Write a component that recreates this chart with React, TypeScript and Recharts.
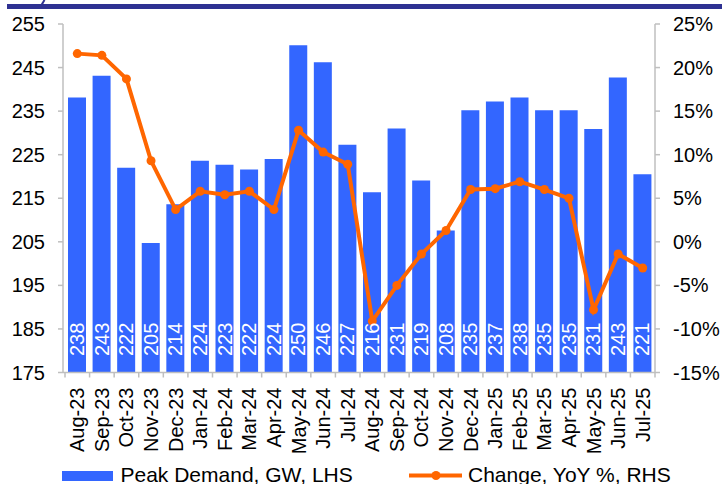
import React from 'react';
import { ComposedChart, Bar, Line, XAxis, YAxis, Legend, LabelList } from 'recharts';

const months = ['Aug-23', 'Sep-23', 'Oct-23', 'Nov-23', 'Dec-23', 'Jan-24', 'Feb-24', 'Mar-24', 'Apr-24', 'May-24', 'Jun-24', 'Jul-24', 'Aug-24', 'Sep-24', 'Oct-24', 'Nov-24', 'Dec-24', 'Jan-25', 'Feb-25', 'Mar-25', 'Apr-25', 'May-25', 'Jun-25', 'Jul-25'];
const peakDemand = [238.1, 243.1, 222.0, 204.7, 213.6, 223.6, 222.7, 221.6, 224.0, 250.1, 246.2, 227.3, 216.4, 231.0, 219.1, 207.6, 235.2, 237.2, 238.1, 235.2, 235.2, 230.9, 242.7, 220.5];
const yoyChange = [21.6, 21.4, 18.7, 9.3, 3.7, 5.8, 5.4, 5.8, 3.7, 12.8, 10.3, 8.9, -9.1, -5.0, -1.4, 1.3, 6.0, 6.1, 6.9, 6.0, 5.0, -7.8, -1.4, -3.0];
const leftTicks = [175, 185, 195, 205, 215, 225, 235, 245, 255];
const rightTicks = [-15, -10, -5, 0, 5, 10, 15, 20, 25];
const barName = 'Peak Demand, GW, LHS';
const lineName = 'Change, YoY %, RHS';

const data = months.map((m, i) => ({ month: m, demand: peakDemand[i], yoy: yoyChange[i] }));

const FONT = '"Liberation Sans", Arial, Helvetica, sans-serif';
const BLUE = '#3366FF';
const ORANGE = '#FF6600';
const AXIS = '#bfbfbf';

const XTick = (props: any) => {
  const { x, y, payload, index, visibleTicksCount } = props;
  const half = payload && typeof payload.offset === 'number' && payload.offset > 0 ? payload.offset : 12.29;
  const axisY = y - 15;
  const isLast = index === (visibleTicksCount ?? months.length) - 1;
  return (
    <g>
      <line x1={x - half} x2={x - half} y1={axisY} y2={axisY + 5} stroke={AXIS} strokeWidth={1.5} />
      {isLast && <line x1={x + half} x2={x + half} y1={axisY} y2={axisY + 5} stroke={AXIS} strokeWidth={1.5} />}
      <text
        x={0}
        y={0}
        dy="0.35em"
        textAnchor="end"
        transform={`translate(${x}, ${y}) rotate(-90)`}
        fill="#000"
        fontSize={20}
        fontFamily={FONT}
      >
        {payload.value}
      </text>
    </g>
  );
};

const BarLabel = (props: any) => {
  const { x, y, width, height, value } = props;
  const cx = Number(x) + Number(width) / 2;
  const by = Number(y) + Number(height) - 16.5;
  return (
    <text
      x={cx}
      y={by}
      dy="0.35em"
      textAnchor="start"
      transform={`rotate(-90, ${cx}, ${by})`}
      fill="#fff"
      fontSize={20}
      fontFamily={FONT}
    >
      {Math.round(Number(value))}
    </text>
  );
};

const renderLegend = (props: any) => {
  const payload: any[] = props.payload || [];
  const barItem = payload.find((p) => p.dataKey === 'demand');
  const lineItem = payload.find((p) => p.dataKey === 'yoy');
  return (
    <svg width={722} height={24} style={{ display: 'block' }}>
      <rect x={62} y={11} width={51} height={10} fill={barItem?.color || BLUE} />
      <text x={120.5} y={21.5} fontSize={21} fontFamily={FONT} fill="#000">
        {barItem?.value ?? barName}
      </text>
      <line x1={409} x2={462} y1={15.5} y2={15.5} stroke={lineItem?.color || ORANGE} strokeWidth={4} />
      <circle cx={436} cy={15.5} r={4.5} fill={lineItem?.color || ORANGE} />
      <text x={468} y={21.5} fontSize={21} fontFamily={FONT} fill="#000">
        {lineItem?.value ?? lineName}
      </text>
    </svg>
  );
};

export default function App() {
  return (
    <div style={{ position: 'absolute', left: 0, top: 0, width: 722, height: 484, background: '#fff', overflow: 'hidden' }}>
      <div style={{ position: 'absolute', left: 7, top: 4, width: 715, height: 5, background: '#2E3192' }} />
      <svg style={{ position: 'absolute', left: 0, top: 0 }} width={60} height={8}>
        <line x1={44.5} y1={0} x2={41.5} y2={5} stroke="#2E3192" strokeWidth={2} />
      </svg>
      <ComposedChart
        width={722}
        height={484}
        data={data}
        margin={{ top: 24, right: 0, bottom: 0, left: 0 }}
        style={{ fontFamily: FONT }}
      >
        <XAxis
          dataKey="month"
          xAxisId={0}
          height={87.5}
          interval={0}
          padding={{ left: 2, right: 0 }}
          axisLine={{ stroke: AXIS, strokeWidth: 1.5 }}
          tickLine={false}
          tickSize={5}
          tickMargin={10}
          tick={<XTick />}
        />
        <YAxis
          yAxisId="left"
          orientation="left"
          width={63}
          domain={[175, 255]}
          ticks={leftTicks}
          interval={0}
          allowDataOverflow
          axisLine={{ stroke: AXIS, strokeWidth: 1.5 }}
          tickLine={{ stroke: AXIS, strokeWidth: 1.5 }}
          tickSize={5}
          tickMargin={13}
          tick={{ fill: '#000', fontSize: 20, fontFamily: FONT }}
        />
        <YAxis
          yAxisId="right"
          orientation="right"
          width={67}
          domain={[-15, 25]}
          ticks={rightTicks}
          interval={0}
          allowDataOverflow
          axisLine={{ stroke: AXIS, strokeWidth: 1.5 }}
          tickLine={{ stroke: AXIS, strokeWidth: 1.5 }}
          tickSize={5}
          tickMargin={13}
          tickFormatter={(v: number) => `${v}%`}
          tick={{ fill: '#000', fontSize: 20, fontFamily: FONT, textAnchor: 'start' }}
        />
        <Bar
          yAxisId="left"
          dataKey="demand"
          name={barName}
          fill={BLUE}
          barSize={18}
          isAnimationActive={false}
        >
          <LabelList dataKey="demand" content={<BarLabel />} />
        </Bar>
        <Line
          yAxisId="right"
          dataKey="yoy"
          name={lineName}
          type="linear"
          stroke={ORANGE}
          strokeWidth={4}
          dot={{ r: 4.5, fill: ORANGE, stroke: ORANGE, strokeWidth: 0 }}
          activeDot={false}
          isAnimationActive={false}
        />
        <Legend
          verticalAlign="bottom"
          align="left"
          content={renderLegend}
          wrapperStyle={{ left: 0, width: 722, height: 24 }}
        />
      </ComposedChart>
    </div>
  );
}
